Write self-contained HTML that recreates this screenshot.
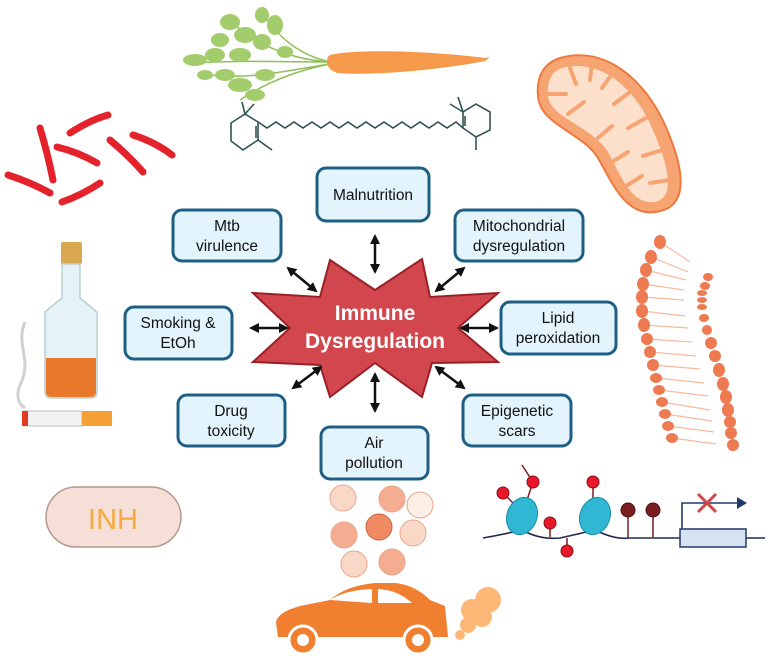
<!DOCTYPE html>
<html><head><meta charset="utf-8"><style>
html,body{margin:0;padding:0;background:#fff;width:767px;height:657px;overflow:hidden}
svg{display:block;font-family:"Liberation Sans",sans-serif}
</style></head><body>
<svg width="767" height="657" viewBox="0 0 767 657" xmlns="http://www.w3.org/2000/svg">
<defs>
<marker id="ah" viewBox="0 0 10 10" refX="8" refY="5" markerWidth="4" markerHeight="4" orient="auto-start-reverse"><path d="M0,0 L10,5 L0,10 Z" fill="#111"/></marker>
</defs>

<!-- bacteria -->
<g stroke="#e3222b" stroke-width="7" stroke-linecap="round" fill="none">
<path d="M40,128 Q48,155 53,180"/><path d="M70,133 Q90,120 108,115"/><path d="M57,147 Q78,152 97,163"/>
<path d="M110,140 Q128,155 143,172"/><path d="M133,135 Q155,142 172,155"/><path d="M8,175 Q30,182 50,193"/><path d="M62,202 Q82,195 100,183"/>
</g>

<!-- carrot greens -->
<g stroke="#8fbf5a" stroke-width="1.5" fill="none">
<path d="M330,62 C300,60 260,50 230,20"/><path d="M330,62 C290,62 250,60 185,63"/><path d="M330,64 C300,70 270,80 240,100"/>
<path d="M330,62 C300,55 280,40 260,10"/><path d="M330,64 C290,70 250,80 210,75"/>
</g>
<g fill="#a3cc6c">
<ellipse cx="230" cy="22" rx="10" ry="8"/><ellipse cx="245" cy="35" rx="11" ry="8"/><ellipse cx="220" cy="40" rx="9" ry="7"/>
<ellipse cx="195" cy="60" rx="12" ry="6"/><ellipse cx="215" cy="55" rx="10" ry="7"/><ellipse cx="240" cy="55" rx="11" ry="7"/>
<ellipse cx="262" cy="42" rx="9" ry="8"/><ellipse cx="275" cy="25" rx="8" ry="10"/><ellipse cx="262" cy="15" rx="7" ry="8"/>
<ellipse cx="240" cy="85" rx="12" ry="7"/><ellipse cx="255" cy="95" rx="10" ry="6"/><ellipse cx="225" cy="75" rx="10" ry="6"/>
<ellipse cx="265" cy="75" rx="10" ry="6"/><ellipse cx="285" cy="52" rx="8" ry="6"/><ellipse cx="205" cy="75" rx="8" ry="5"/>
</g>
<path d="M330,55 C360,48 440,52 485,58 L490,57 L485,61 C440,70 370,76 338,73 C325,70 325,58 330,55 Z" fill="#f59a4a"/>

<!-- molecule -->
<g stroke="#2f5552" stroke-width="1.6" fill="none">
<polygon points="258,122 258,140 243,150 231,141 231,123 245,114"/>
<line x1="256" y1="126" x2="256" y2="138"/>
<line x1="245" y1="114" x2="242" y2="102"/><line x1="245" y1="114" x2="254" y2="104"/><line x1="258" y1="140" x2="272" y2="150"/>
<polyline points="258,122 267,128 276,122 285,128 294,122 303,128 312,122 321,128 330,122 339,128 348,122 357,128 366,122 375,128 384,122 393,128 402,122 411,128 420,122 429,128 438,122 447,128 456,122 463,128"/>
<polygon points="463,128 463,112 476,104 490,112 490,130 476,137"/>
<line x1="465" y1="116" x2="465" y2="126"/>
<line x1="463" y1="112" x2="450" y2="104"/><line x1="463" y1="112" x2="458" y2="97"/><line x1="476" y1="137" x2="476" y2="150"/>
</g>

<!-- mitochondrion -->
<path d="M560,58 C605,45 645,80 665,125 C685,170 690,208 655,212 C625,216 612,182 598,158 C582,132 540,125 538,96 C536,75 545,63 560,58 Z" fill="#f6a572" stroke="#ee7840" stroke-width="2"/>
<path d="M562,68 C600,58 635,88 652,128 C670,168 675,198 655,202 C632,205 622,178 608,152 C592,126 550,118 548,96 C547,80 552,71 562,68 Z" fill="#fde0cc"/>
<g stroke="#f6a572" stroke-width="4" stroke-linecap="round">
<line x1="570" y1="68" x2="576" y2="84"/><line x1="592" y1="64" x2="590" y2="80"/><line x1="549" y1="94" x2="566" y2="94"/>
<line x1="612" y1="74" x2="602" y2="88"/><line x1="568" y1="114" x2="584" y2="102"/><line x1="630" y1="92" x2="614" y2="104"/>
<line x1="598" y1="138" x2="612" y2="126"/><line x1="646" y1="118" x2="628" y2="128"/><line x1="612" y1="162" x2="628" y2="152"/>
<line x1="662" y1="150" x2="643" y2="156"/><line x1="626" y1="186" x2="642" y2="176"/><line x1="670" y1="180" x2="650" y2="183"/>
</g>

<!-- membrane -->
<g stroke="#f8b9a0" stroke-width="1.2">
<path d="M660,242 L690,262 M651,257 L688,272 M646,270 L686,280 M643,284 L684,290 M642,297 L684,300 M642,311 L685,316 M644,325 L688,328 M647,339 L692,342 M650,352 L696,356 M653,365 L700,369 M656,378 L704,383 M659,390 L708,396 M662,402 L710,410 M665,414 L712,421 M668,426 L714,432 M672,438 L716,444"/>
</g>
<g fill="#ee7a52">
<ellipse cx="660" cy="242" rx="6" ry="7"/><ellipse cx="651" cy="257" rx="6" ry="7"/><ellipse cx="646" cy="270" rx="6" ry="7"/><ellipse cx="643" cy="284" rx="6" ry="7"/><ellipse cx="642" cy="297" rx="6" ry="7"/><ellipse cx="642" cy="311" rx="6" ry="7"/><ellipse cx="644" cy="325" rx="6" ry="7"/><ellipse cx="647" cy="339" rx="6" ry="6"/><ellipse cx="650" cy="352" rx="6" ry="6"/><ellipse cx="653" cy="365" rx="6" ry="6"/><ellipse cx="656" cy="378" rx="6" ry="5"/><ellipse cx="659" cy="390" rx="6" ry="5"/><ellipse cx="662" cy="402" rx="6" ry="5"/><ellipse cx="665" cy="414" rx="6" ry="5"/><ellipse cx="668" cy="426" rx="6" ry="5"/><ellipse cx="672" cy="438" rx="6" ry="5"/>
<ellipse cx="708" cy="277" rx="5" ry="4"/><ellipse cx="705" cy="286" rx="5" ry="4"/><ellipse cx="702" cy="293" rx="5" ry="3"/><ellipse cx="702" cy="300" rx="5" ry="3"/><ellipse cx="702" cy="307" rx="5" ry="3"/><ellipse cx="704" cy="318" rx="5" ry="4"/><ellipse cx="707" cy="330" rx="5" ry="5"/><ellipse cx="711" cy="343" rx="6" ry="6"/><ellipse cx="715" cy="356" rx="6" ry="6"/><ellipse cx="719" cy="370" rx="6" ry="7"/><ellipse cx="723" cy="384" rx="6" ry="7"/><ellipse cx="726" cy="397" rx="6" ry="7"/><ellipse cx="728" cy="410" rx="6" ry="7"/><ellipse cx="730" cy="422" rx="6" ry="6"/><ellipse cx="731" cy="433" rx="6" ry="6"/><ellipse cx="733" cy="445" rx="6" ry="6"/>
</g>

<!-- bottle -->
<rect x="61" y="242" width="21" height="22" rx="2" fill="#d8a94e"/>
<path d="M62,264 L80,264 L80,298 L97,312 L97,392 Q97,398 90,398 L52,398 Q45,398 45,392 L45,312 L62,298 Z" fill="#e6f3f6" stroke="#b8cfd6" stroke-width="1.5"/>
<path d="M46,358 L96,358 L96,392 Q96,397 90,397 L52,397 Q46,397 46,392 Z" fill="#e8782a"/>
<path d="M25,322 C15,345 33,360 20,385 C15,398 20,405 25,408" stroke="#d0d0d0" stroke-width="3" fill="none"/>
<rect x="24" y="411" width="58" height="15" fill="#f2f2f2" stroke="#bbb"/>
<rect x="82" y="411" width="30" height="15" fill="#f5a035"/>
<rect x="22" y="411" width="6" height="15" fill="#e03a20"/>

<!-- pill -->
<rect x="46" y="487" width="135" height="60" rx="30" fill="#f6dfd6" stroke="#b09a92" stroke-width="1.5"/>
<text x="113" y="529" text-anchor="middle" font-size="29" fill="#f6a93c">INH</text>

<!-- particles -->
<g stroke="#e9a58a" stroke-width="1">
<circle cx="343" cy="498" r="13" fill="#fad8c8"/><circle cx="392" cy="499" r="13" fill="#f4ad90"/><circle cx="420" cy="505" r="13" fill="#fdeee6"/>
<circle cx="344" cy="535" r="13" fill="#f4ad90"/><circle cx="379" cy="527" r="13" fill="#ef8a62" stroke="#c8653e"/><circle cx="413" cy="533" r="13" fill="#fad8c8"/>
<circle cx="354" cy="564" r="13" fill="#fad8c8"/><circle cx="392" cy="562" r="13" fill="#f4ad90"/>
</g>

<!-- car -->
<path d="M278,637 L276,622 Q278,612 300,606 L330,600 Q345,586 375,583 L395,583 Q415,585 430,600 L440,604 L445,606 L448,637 Z" fill="#f07f30"/>
<path d="M330,600 Q345,590 372,589 L372,603 Z" fill="#fff"/><path d="M378,589 Q398,590 412,603 L378,603 Z" fill="#fff"/>
<circle cx="303" cy="640" r="14" fill="#f07f30" stroke="#fff" stroke-width="3"/><circle cx="303" cy="640" r="6" fill="#fff"/>
<circle cx="418" cy="640" r="14" fill="#f07f30" stroke="#fff" stroke-width="3"/><circle cx="418" cy="640" r="6" fill="#fff"/>
<g fill="#fdb877"><circle cx="488" cy="600" r="13"/><circle cx="472" cy="610" r="11"/><circle cx="468" cy="625" r="8"/><circle cx="460" cy="635" r="5"/><circle cx="482" cy="617" r="10"/></g>

<!-- DNA -->
<path d="M483,538 Q505,534 522,530 Q540,540 560,538 Q578,534 595,530 Q615,540 630,538 L765,538" stroke="#1f2a50" stroke-width="1.6" fill="none"/>
<g stroke="#7a1a1a" stroke-width="1.5">
<line x1="503" y1="493" x2="515" y2="505"/><line x1="533" y1="482" x2="527" y2="500"/><line x1="533" y1="482" x2="522" y2="465"/>
<line x1="550" y1="523" x2="550" y2="537"/><line x1="567" y1="551" x2="567" y2="538"/><line x1="593" y1="482" x2="593" y2="498"/>
<line x1="628" y1="510" x2="628" y2="538"/><line x1="653" y1="510" x2="653" y2="538"/>
</g>
<ellipse cx="522" cy="516" rx="15" ry="19" transform="rotate(20 522 516)" fill="#2fb7d4" stroke="#1a8aa6"/>
<ellipse cx="595" cy="516" rx="15" ry="19" transform="rotate(20 595 516)" fill="#2fb7d4" stroke="#1a8aa6"/>
<g fill="#e8182a" stroke="#8a1010"><circle cx="503" cy="493" r="6"/><circle cx="533" cy="482" r="6"/><circle cx="550" cy="523" r="6"/><circle cx="567" cy="551" r="6"/><circle cx="593" cy="482" r="6"/></g>
<g fill="#7a1e22" stroke="#4a1010"><circle cx="628" cy="510" r="7"/><circle cx="653" cy="510" r="7"/></g>
<rect x="680" y="529" width="66" height="18" fill="#d6e2f2" stroke="#1f3a6a" stroke-width="1.5"/>
<path d="M682,529 L682,503 L738,503" stroke="#1f3a6a" stroke-width="1.6" fill="none"/><path d="M737,497 L747,503 L737,509 Z" fill="#1f3a6a"/>
<path d="M698,494 L716,512 M716,494 L698,512" stroke="#d0484a" stroke-width="3"/>

<!-- star -->
<polygon points="253,293 320,297 330,260 375,290 422,259 430,297 498,293 458,328 498,362 432,363 422,397 375,363 330,397 320,365 253,362 290,328" fill="#d2474d" stroke="#9a2026" stroke-width="2"/>
<text x="375" y="320" text-anchor="middle" font-size="21" font-weight="bold" fill="#fff">Immune</text>
<text x="375" y="348" text-anchor="middle" font-size="21" font-weight="bold" fill="#fff">Dysregulation</text>

<!-- arrows -->
<g stroke="#111" stroke-width="2.5" marker-start="url(#ah)" marker-end="url(#ah)">
<line x1="375" y1="236" x2="375" y2="272"/><line x1="375" y1="374" x2="375" y2="411"/>
<line x1="251" y1="328" x2="287" y2="328"/><line x1="461" y1="328" x2="497" y2="328"/>
<line x1="288" y1="268" x2="316" y2="291"/><line x1="464" y1="268" x2="436" y2="291"/>
<line x1="293" y1="388" x2="321" y2="367"/><line x1="436" y1="367" x2="464" y2="388"/>
</g>

<!-- boxes -->
<g fill="#e3f4fc" stroke="#1f5f85" stroke-width="3">
<rect x="317" y="168" width="112" height="53" rx="9"/><rect x="173" y="210" width="108" height="51" rx="9"/>
<rect x="455" y="210" width="128" height="51" rx="9"/><rect x="125" y="307" width="107" height="52" rx="9"/>
<rect x="501" y="302" width="115" height="52" rx="9"/><rect x="178" y="395" width="107" height="51" rx="9"/>
<rect x="463" y="395" width="108" height="51" rx="9"/><rect x="321" y="427" width="107" height="52" rx="9"/>
</g>
<g font-size="15.5" fill="#111" text-anchor="middle">
<text x="373" y="200">Malnutrition</text>
<text x="227" y="231">Mtb</text><text x="227" y="251">virulence</text>
<text x="519" y="231">Mitochondrial</text><text x="519" y="251">dysregulation</text>
<text x="178" y="328">Smoking &amp;</text><text x="178" y="348">EtOh</text>
<text x="558" y="323">Lipid</text><text x="558" y="343">peroxidation</text>
<text x="231" y="416">Drug</text><text x="231" y="436">toxicity</text>
<text x="517" y="416">Epigenetic</text><text x="517" y="436">scars</text>
<text x="374" y="448">Air</text><text x="374" y="468">pollution</text>
</g>
</svg>
</body></html>
